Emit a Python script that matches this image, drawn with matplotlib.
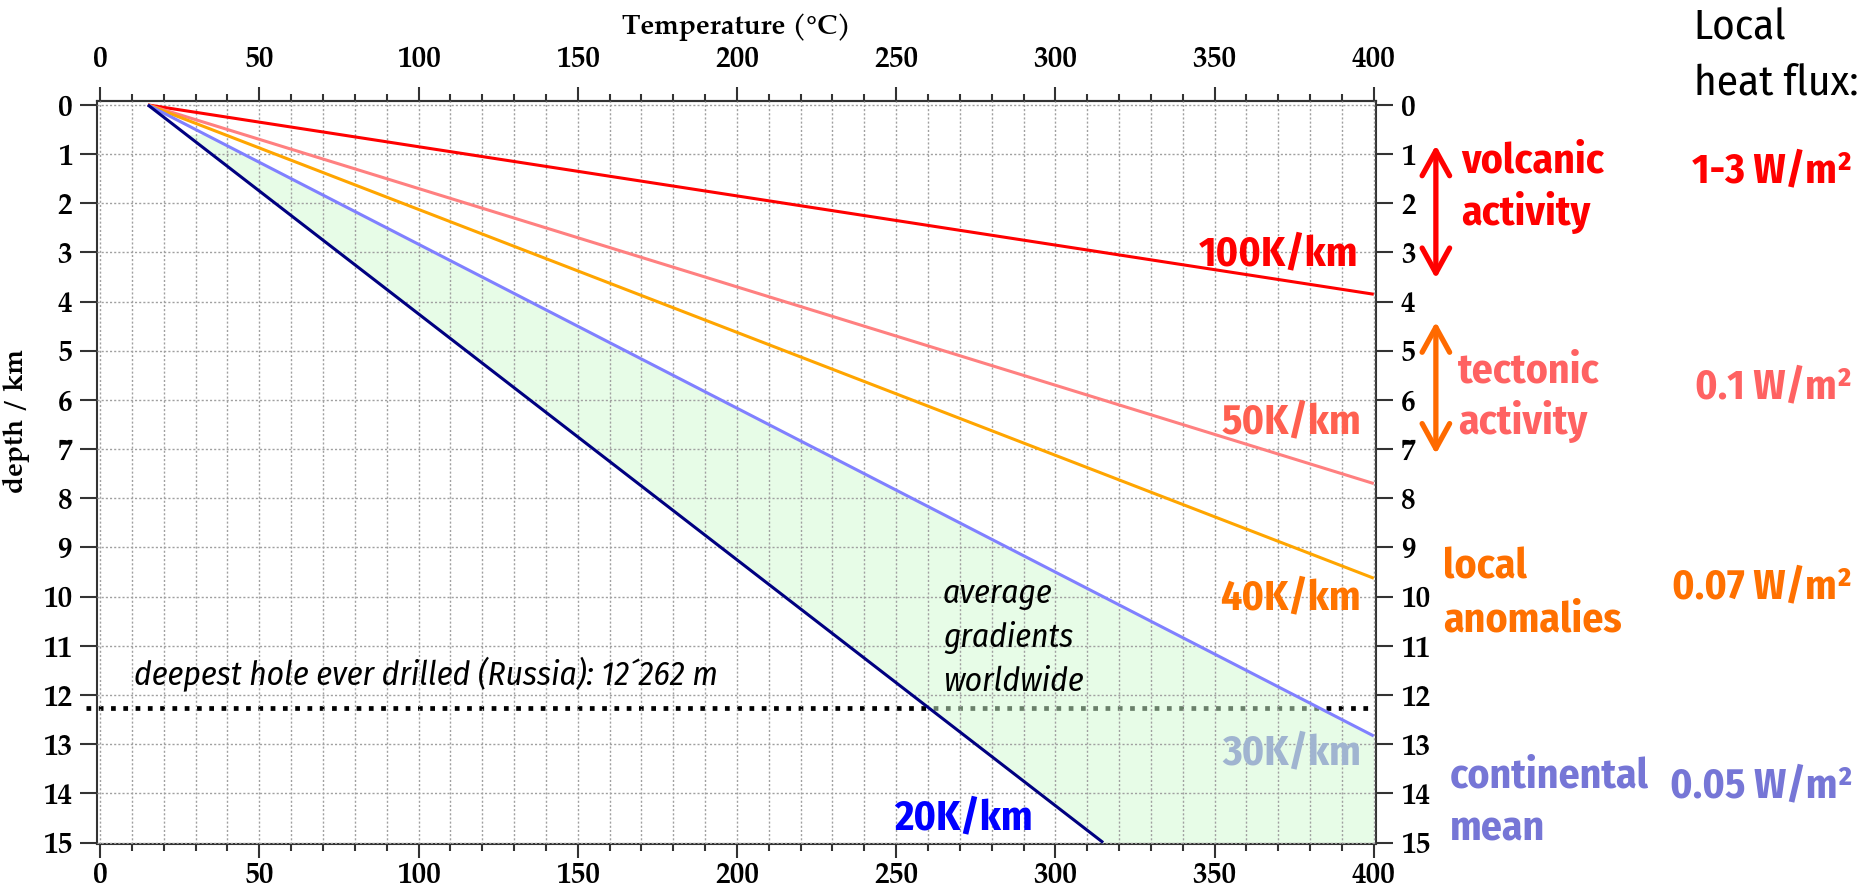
import matplotlib
matplotlib.use("Agg")
import logging
import matplotlib.pyplot as plt
import numpy as np

logging.getLogger("matplotlib.font_manager").setLevel(logging.ERROR)

# data
surface_temp = 15          # degC at depth 0
gradients = [100, 50, 40, 30, 20]   # K/km
gradient_labels = ["100K/km", "50K/km", "40K/km", "30K/km", "20K/km"]
line_colors = ["#ff0000", "#ff8080", "#ffa500", "#8080ff", "#000080"]
label_colors = ["#ff0000", "#ff6050", "#ff7400", "#a0b4d0", "#0000ff"]
deepest_hole = 12.262      # km

zones = [["volcanic", "activity"], ["tectonic", "activity"],
         ["local", "anomalies"], ["continental", "mean"]]
zone_colors = ["#ff0000", "#ff6262", "#ff7000", "#7676d6"]
heat_flux = ["1-3 W/m\u00b2", "0.1 W/m\u00b2", "0.07 W/m\u00b2", "0.05 W/m\u00b2"]
band_words = ["average", "gradients", "worldwide"]

serif = ["Palatino Linotype", "TeX Gyre Pagella", "P052", "URW Palladio L", "Book Antiqua",
         "Liberation Serif", "DejaVu Serif"]
narrow = ["Liberation Sans Narrow", "Arial Narrow", "Fira Sans Condensed", "IBM Plex Sans Condensed",
          "PT Sans Narrow", "Roboto Condensed", "Archivo Narrow", "Liberation Sans", "DejaVu Sans"]

fig = plt.figure(figsize=(18.63, 8.89), dpi=100)
ax = fig.add_axes([0.0522, 0.0506, 0.6864, 0.8358])

xmax = 400
ax.set_xlim(-0.9, 400.7)
ax.set_ylim(15.03, -0.08)

# gradient lines from the surface temperature
for g, col in zip(gradients, line_colors):
    d_end = min(15, (xmax - surface_temp) / g)
    ax.plot([surface_temp, surface_temp + g * d_end], [0, d_end], color=col, lw=2.2,
            solid_capstyle="butt", zorder=3)

# shaded band of average gradients (20..30 K/km)
d = np.linspace(0.6, 15, 300)
x_lo = surface_temp + gradients[4] * d
x_hi = np.minimum(surface_temp + gradients[3] * d, xmax)
ax.fill_betweenx(d, x_lo, x_hi, color="#d0fad0", alpha=0.51, lw=0, zorder=1)
ax.plot(x_hi + 1.2, d + 0.04, color="white", lw=1.5, zorder=1.2)

# deepest hole
ax.plot([-4.4, 399], [deepest_hole, deepest_hole], color="black", lw=3.4,
        linestyle=(0, (1, 1.6)), dash_capstyle="butt", zorder=0.9, clip_on=False)
ax.text(10.7, 11.8, "deepest hole ever drilled (Russia): 12\u00b4262 m", family=narrow,
        style="italic", fontsize=24, va="baseline", ha="left")
for w, by in zip(band_words, [10.12, 11.02, 11.92]):
    ax.text(264.7, by, w, family=narrow, style="italic", fontsize=24, va="baseline", ha="left")

# gradient labels
label_pos = [(395, 3.27), (396, 6.67), (396, 10.25), (396, 13.4), (293, 14.73)]
for lab, col, (lx, ly) in zip(gradient_labels, label_colors, label_pos):
    ax.text(lx, ly, lab, color=col, family=narrow, fontweight="bold", fontsize=30,
            ha="right", va="baseline")

# zones on the right
zone_pos = [(427.3, [1.37, 2.45]), (426.5, [5.65, 6.7]), (421.7, [9.63, 10.71]),
            (424, [13.88, 14.96])]
for z, col, (zx, zys) in zip(zones, zone_colors, zone_pos):
    for word, zy in zip(z, zys):
        ax.text(zx, zy, word, color=col, family=narrow, fontweight="bold", fontsize=30,
                ha="left", va="baseline", clip_on=False)

flux_y = [1.57, 5.96, 10.04, 14.08]
for f, col, fy in zip(heat_flux, zone_colors, flux_y):
    ax.text(550.3, fy, f, color=col, family=narrow, fontweight="bold", fontsize=30,
            ha="right", va="baseline", clip_on=False)
ax.text(500.5, -1.33, "Local", family=narrow, fontsize=31, ha="left", va="baseline", clip_on=False)
ax.text(500.5, -0.22, "heat flux:", family=narrow, fontsize=31, ha="left", va="baseline",
        clip_on=False)

# arrows
arrow_style = "<->,head_length=0.6,head_width=0.33"
ax.annotate("", xy=(419.5, 0.82), xytext=(419.5, 3.53), annotation_clip=False,
            arrowprops=dict(arrowstyle=arrow_style, color="#ff0000", lw=3.8, mutation_scale=30,
                            shrinkA=0, shrinkB=0, joinstyle="round", capstyle="round"))
ax.annotate("", xy=(419.5, 4.41), xytext=(419.5, 7.1), annotation_clip=False,
            arrowprops=dict(arrowstyle=arrow_style, color="#ff6a00", lw=3.8, mutation_scale=30,
                            shrinkA=0, shrinkB=0, joinstyle="round", capstyle="round"))

# axes, ticks, grid
major_x = np.arange(0, 401, 50)
minor_x = np.arange(0, 401, 10)
ax.set_xticks(major_x)
ax.set_xticks(minor_x, minor=True)
ax.set_yticks(np.arange(0, 16, 1))
ax.tick_params(axis="x", which="both", top=False, bottom=True, labeltop=False, labelbottom=True)
ax.tick_params(axis="y", which="both", left=True, right=True, labelleft=True, labelright=True)
ax.tick_params(axis="x", which="major", direction="out", length=10, width=1.5, color="#333333", pad=3)
ax.tick_params(axis="y", which="major", direction="out", length=12, width=1.5, color="#333333", pad=6)
ax.tick_params(which="minor", direction="out", length=5, width=1.5, color="#333333")

top = ax.secondary_xaxis("top")
top.set_xticks(major_x)
top.set_xticks(minor_x, minor=True)
top.tick_params(which="major", direction="out", length=10, width=1.5, color="#333333", pad=9)
top.tick_params(which="minor", direction="out", length=5, width=1.5, color="#333333")
top.spines["top"].set_linewidth(1.5)
top.spines["top"].set_color("#333333")

for lab in ax.get_xticklabels() + ax.get_yticklabels() + top.get_xticklabels():
    lab.set_family(serif)
    lab.set_fontweight("bold")
    lab.set_fontsize(21)
ax.grid(True, which="both", color="#a0a0a0", linestyle=(0, (1.5, 1.5)), lw=1)
ax.set_axisbelow(False)
for sp in ax.spines.values():
    sp.set_linewidth(1.5)
    sp.set_color("#333333")

top.set_xlabel("Temperature (\u00b0C)", family=serif, fontweight="bold", fontsize=20, labelpad=8)
ax.set_ylabel("depth / km", family=serif, fontweight="bold", fontsize=20)
ax.yaxis.set_label_coords(-0.0526, 0.569)

fig.savefig("out.png", dpi=100)
